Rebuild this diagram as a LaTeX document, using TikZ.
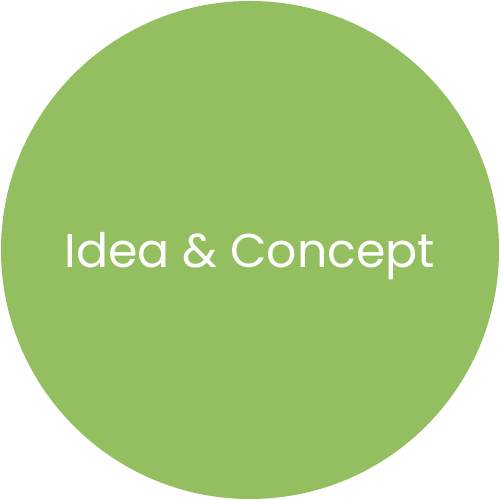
\documentclass[tikz,border=0pt]{standalone}
\usepackage{fontspec}
\setmainfont{Poppins}
\usepackage{tikz}
\definecolor{ideagreen}{HTML}{93BF60}

\begin{document}
\begin{tikzpicture}[x=0.02cm,y=0.02cm]
    \useasboundingbox (0,0) rectangle (500,500);
    \fill[ideagreen] (250,250) circle (249);
    \node[text=white, font=\fontsize{27}{32}\selectfont] (idea) at (250,244) {Idea \& Concept};
\end{tikzpicture}
\end{document}
